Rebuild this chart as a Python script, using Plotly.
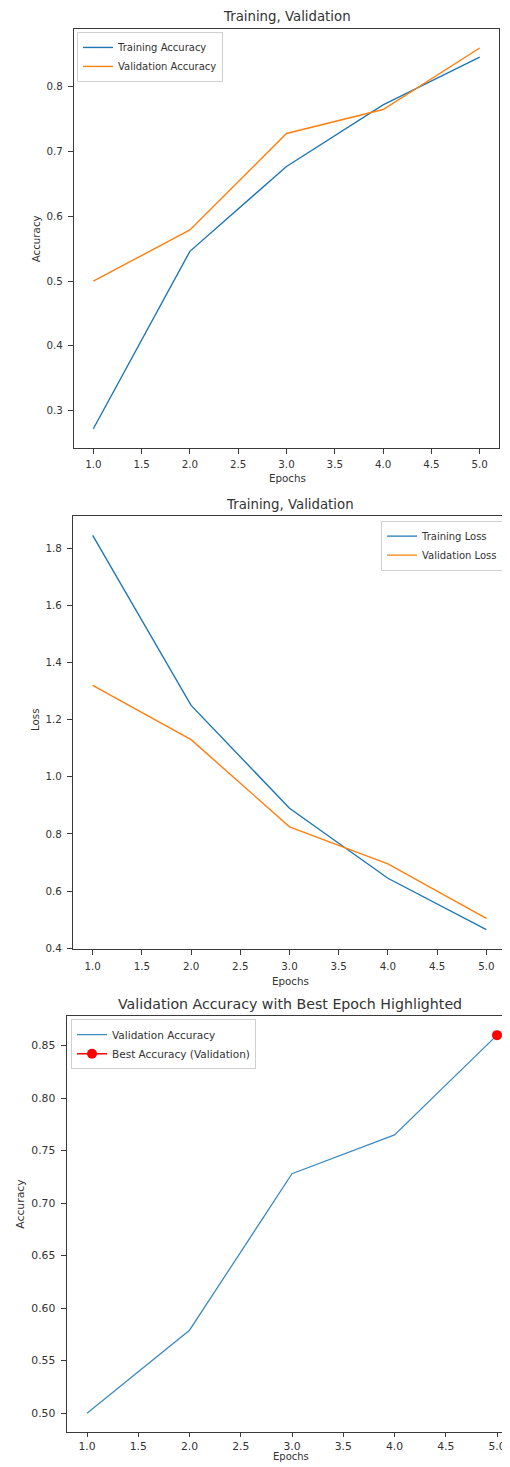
import plotly.graph_objects as go

# ---- data ----
epochs = [1, 2, 3, 4, 5]
train_acc = [0.272, 0.546, 0.677, 0.772, 0.846]
val_acc = [0.500, 0.579, 0.728, 0.765, 0.860]
train_loss = [1.845, 1.250, 0.890, 0.645, 0.465]
val_loss = [1.320, 1.130, 0.825, 0.695, 0.505]
x_ticks = [1.0, 1.5, 2.0, 2.5, 3.0, 3.5, 4.0, 4.5, 5.0]
acc_ticks = [0.3, 0.4, 0.5, 0.6, 0.7, 0.8]
loss_ticks = [0.4, 0.6, 0.8, 1.0, 1.2, 1.4, 1.6, 1.8]
best_ticks = [0.50, 0.55, 0.60, 0.65, 0.70, 0.75, 0.80, 0.85]

best_i = max(range(len(val_acc)), key=lambda i: val_acc[i])

REF_W, REF_H = 510, 1467
OFF = 8  # page body margin
W, H = REF_W - OFF, REF_H - OFF
C0, C1 = "#1f77b4", "#ff7f0e"
FONT = "DejaVu Sans"
AX = "#3a3a3a"
TXT = "#333333"


def px(x):
    return min(1.0, max(0.0, (x - OFF) / W))


def py(y):
    return min(1.0, max(0.0, 1 - (y - OFF) / H))


fig = go.Figure()

# Panel 1
fig.add_trace(go.Scatter(x=epochs, y=train_acc, mode="lines", name="Training Accuracy",
                         line=dict(color=C0, width=1.4), xaxis="x", yaxis="y", legend="legend"))
fig.add_trace(go.Scatter(x=epochs, y=val_acc, mode="lines", name="Validation Accuracy",
                         line=dict(color=C1, width=1.4), xaxis="x", yaxis="y", legend="legend"))
# Panel 2
fig.add_trace(go.Scatter(x=epochs, y=train_loss, mode="lines", name="Training Loss",
                         line=dict(color=C0, width=1.4), xaxis="x2", yaxis="y2", legend="legend2"))
fig.add_trace(go.Scatter(x=epochs, y=val_loss, mode="lines", name="Validation Loss",
                         line=dict(color=C1, width=1.4), xaxis="x2", yaxis="y2", legend="legend2"))
# Panel 3
fig.add_trace(go.Scatter(x=epochs, y=val_acc, mode="lines", name="Validation Accuracy",
                         line=dict(color=C0, width=1.3), opacity=0.85,
                         xaxis="x3", yaxis="y3", legend="legend3"))
fig.add_trace(go.Scatter(x=[epochs[best_i]], y=[val_acc[best_i]], mode="lines+markers",
                         name="Best Accuracy (Validation)",
                         line=dict(color="red", width=1.4),
                         marker=dict(color="red", size=10), cliponaxis=False,
                         xaxis="x3", yaxis="y3", legend="legend3"))


def xax(domain, rng, anchor, fs, mirror=True, ticklen=5, standoff=2):
    return dict(domain=domain, range=rng, anchor=anchor, tickvals=x_ticks,
                ticktext=[f"{v:.1f}" for v in x_ticks], showgrid=False, zeroline=False,
                showline=True, linecolor=AX, linewidth=1, mirror=mirror,
                ticks="outside", ticklen=ticklen, tickcolor=AX, ticklabelstandoff=standoff,
                tickfont=dict(family=FONT, size=fs, color=TXT))


def yax(domain, rng, anchor, vals, fmt, fs, mirror=True):
    return dict(domain=domain, range=rng, anchor=anchor, tickvals=vals,
                ticktext=[fmt.format(v) for v in vals], showgrid=False, zeroline=False,
                showline=True, linecolor=AX, linewidth=1, mirror=mirror,
                ticks="outside", ticklen=5, tickcolor=AX, ticklabelstandoff=3,
                tickfont=dict(family=FONT, size=fs, color=TXT))


def legend_common(fs):
    return dict(bgcolor="rgba(255,255,255,0.85)", bordercolor="#d0d0d0", borderwidth=1,
                font=dict(family=FONT, size=fs, color=TXT), tracegroupgap=0,
                itemwidth=30)


fig.update_layout(
    width=W, height=H,
    margin=dict(l=0, r=0, t=0, b=0),
    paper_bgcolor="white", plot_bgcolor="white",
    font=dict(family=FONT, color=TXT),
    xaxis=xax([px(74), px(499)], [0.8, 5.2], "y", 10.3),
    yaxis=yax([py(449), py(29)], [0.2426, 0.8894], "x", acc_ticks, "{:.1f}", 10.3),
    xaxis2=xax([px(73), px(506)], [0.8, 5.2], "y2", 10.3),
    yaxis2=yax([py(952), py(517)], [0.396, 1.914], "x2", loss_ticks, "{:.1f}", 10.3),
    xaxis3=xax([px(66.5), 1.0], [0.8, 0.8 + (REF_W - 66.5) / 102.5], "y3", 10.8,
               ticklen=4, standoff=0),
    yaxis3=yax([py(1436), py(1019)], [0.482, 0.878], "x3", best_ticks, "{:.2f}", 10.8,
               mirror=False),
    legend=dict(x=px(77), y=py(32), xanchor="left", yanchor="top", **legend_common(10)),
    legend2=dict(x=px(503), y=py(522), xanchor="right", yanchor="top", **legend_common(10)),
    legend3=dict(x=px(71), y=py(1022), xanchor="left", yanchor="top", **legend_common(10.5)),
    showlegend=True,
)

annos = [
    ("Training, Validation", 287, 17, 13.3, 0),
    ("Epochs", 287, 479, 10.3, 0),
    ("Accuracy", 36, 240, 10.3, -90),
    ("Training, Validation", 290, 506, 13.3, 0),
    ("Epochs", 290, 984, 10.3, 0),
    ("Loss", 35, 722, 10.3, -90),
    ("Validation Accuracy with Best Epoch Highlighted", 290, 1007, 14.2, 0),
    ("Epochs", 291, 1460, 10, 0),
    ("Accuracy", 21, 1207, 10.8, -90),
]
for text, x, y, size, ang in annos:
    fig.add_annotation(text=text, x=px(x), y=py(y), xref="paper", yref="paper",
                       xanchor="center", yanchor="middle", showarrow=False, textangle=ang,
                       font=dict(family=FONT, size=size, color=TXT))

fig.write_html("out.html")
